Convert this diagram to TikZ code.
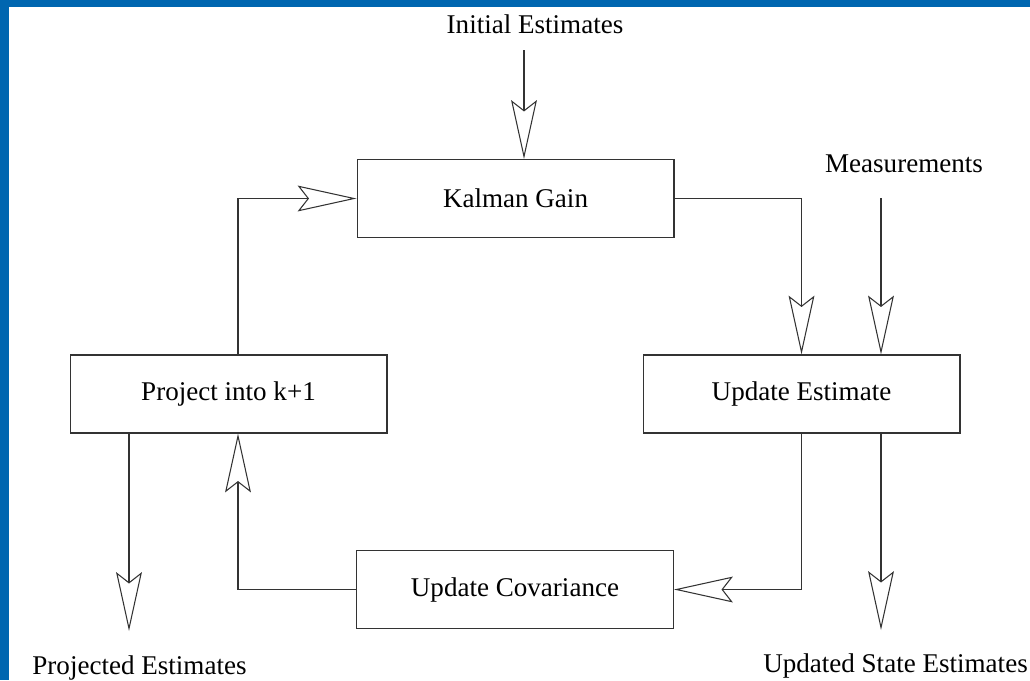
\documentclass[tikz,border=0pt]{standalone}
\usepackage{fontspec}
\setmainfont{Liberation Serif}
\usetikzlibrary{arrows.meta,positioning}
\definecolor{slideblue}{RGB}{0,102,176}
\tikzset{
    block/.style={draw=black!80, line width=0.6pt, minimum width=6.34cm, minimum height=1.56cm, inner sep=0pt, font=\fontsize{15.4}{18}\selectfont},
    caption/.style={inner sep=0pt, anchor=base, font=\fontsize{15.4}{18}\selectfont},
    flow/.style={draw=black!80, line width=0.6pt, -{Stealth[length=33.5pt, width=14.7pt, inset=5.7pt, fill=white]}},
}
\begin{document}
\begin{tikzpicture}[x=0.02cm, y=-0.02cm]
    \useasboundingbox (0,0) rectangle (1030,680);
    \fill [slideblue] (0,0) rectangle (1030,7);
    \fill [slideblue] (0,0) rectangle (9,680);
    \node [block] (kalman) at (515.5,198.5) {Kalman Gain};
    \node [block] (project) at (228.5,394) {Project into k+1};
    \node [block] (update) at (801.5,394) {Update Estimate};
    \node [block] (covar) at (515,589.5) {Update Covariance};
    \node [caption] (initial) at (535,33) {Initial Estimates};
    \node [caption] (meas) at (904,172) {Measurements};
    \node [caption] (projected) at (139.5,674) {Projected Estimates};
    \node [caption] (updated) at (895.5,672) {Updated State Estimates};
    \coordinate (initIn) at (524,50);
    \coordinate (measIn) at (881,198);
    \coordinate (stateOut) at (881,630);
    \coordinate (projOut) at (129,631);
    \coordinate (loopx) at (238,0);
    \draw [flow] (initIn) -- (initIn |- kalman.north);
    \draw [flow] (kalman.east) -| (update.north);
    \draw [flow] (measIn) -- (measIn |- update.north);
    \draw [flow] (update.south) |- (covar.east);
    \draw [flow] (measIn |- update.south) -- (stateOut);
    \draw [flow] (covar.west) -| (loopx |- project.south);
    \draw [flow] (loopx |- project.north) |- (kalman.west);
    \draw [flow] (projOut |- project.south) -- (projOut);
\end{tikzpicture}
\end{document}
